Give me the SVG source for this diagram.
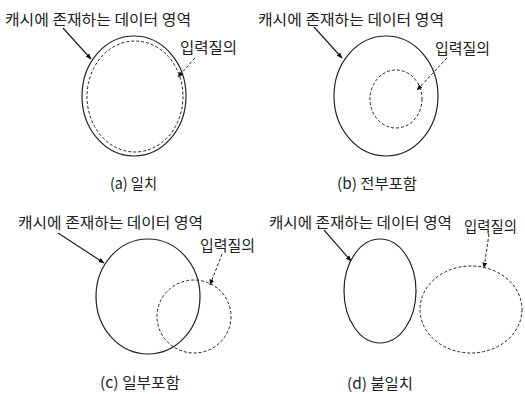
<svg xmlns="http://www.w3.org/2000/svg" width="525" height="394" viewBox="0 0 525 394">
<defs>
<marker id="ah" viewBox="0 0 10 10" refX="9" refY="5" markerWidth="6" markerHeight="6" orient="auto" markerUnits="userSpaceOnUse">
<path d="M0,1 L10,5 L0,9 z" fill="#111"/>
</marker>
</defs>
<style>
text{font-family:"Noto Sans CJK KR","Noto Sans",sans-serif;font-size:15px;fill:#222;dominant-baseline:central}
.solid{fill:none;stroke:#222;stroke-width:1.2}
.dash{fill:none;stroke:#222;stroke-width:1;stroke-dasharray:3 2}
.arr{fill:none;stroke:#222;stroke-width:1.2;marker-end:url(#ah)}
.darr{fill:none;stroke:#222;stroke-width:1;stroke-dasharray:3 2;marker-end:url(#ah)}
</style>
<rect width="525" height="394" fill="#fff"/>
<g id="panel-a">
<g id="a-cache"><ellipse class="solid" cx="134" cy="96" rx="52" ry="60"/><text x="5" y="18" textLength="186" lengthAdjust="spacingAndGlyphs">캐시에 존재하는 데이터 영역</text></g>
<g id="a-query"><ellipse class="dash" cx="135" cy="96.5" rx="48" ry="55.5"/><text x="180" y="46" textLength="57" lengthAdjust="spacingAndGlyphs">입력질의</text></g>
<text x="110" y="182" textLength="47" lengthAdjust="spacingAndGlyphs">(a) 일치</text>
</g>
<g id="panel-b">
<g id="b-cache"><ellipse class="solid" cx="386" cy="96" rx="52" ry="60"/><text x="258" y="18" textLength="186" lengthAdjust="spacingAndGlyphs">캐시에 존재하는 데이터 영역</text></g>
<g id="b-query"><ellipse class="dash" cx="396" cy="99" rx="26" ry="29"/><text x="435" y="47" textLength="55" lengthAdjust="spacingAndGlyphs">입력질의</text></g>
<text x="337" y="182" textLength="80" lengthAdjust="spacingAndGlyphs">(b) 전부포함</text>
</g>
<g id="panel-c">
<g id="c-cache"><ellipse class="solid" cx="148" cy="296.5" rx="52" ry="57.5"/><text x="18" y="221" textLength="185" lengthAdjust="spacingAndGlyphs">캐시에 존재하는 데이터 영역</text></g>
<g id="c-query"><ellipse class="dash" cx="194" cy="316.5" rx="37" ry="36.5"/><text x="200" y="244" textLength="55" lengthAdjust="spacingAndGlyphs">입력질의</text></g>
<text x="100" y="381" textLength="80" lengthAdjust="spacingAndGlyphs">(c) 일부포함</text>
</g>
<g id="panel-d">
<g id="d-cache"><ellipse class="solid" cx="380" cy="291" rx="36" ry="52"/><text x="269" y="221" textLength="183" lengthAdjust="spacingAndGlyphs">캐시에 존재하는 데이터 영역</text></g>
<g id="d-query"><ellipse class="dash" cx="471" cy="309.5" rx="51" ry="43.5"/><text x="464" y="225" textLength="53" lengthAdjust="spacingAndGlyphs">입력질의</text></g>
<text x="347" y="382" textLength="66" lengthAdjust="spacingAndGlyphs">(d) 불일치</text>
</g>
<g id="connectors">
<line class="arr" x1="63" y1="28" x2="91" y2="59"/>
<line class="darr" x1="195" y1="58" x2="178" y2="77"/>
<line class="arr" x1="314" y1="27" x2="342" y2="58"/>
<line class="darr" x1="447" y1="58" x2="417" y2="90"/>
<line class="arr" x1="58" y1="233" x2="104" y2="263"/>
<line class="darr" x1="222" y1="254" x2="210" y2="285"/>
<line class="arr" x1="324" y1="230" x2="351" y2="261"/>
<line class="darr" x1="489" y1="234" x2="484" y2="268"/>
</g>
</svg>
